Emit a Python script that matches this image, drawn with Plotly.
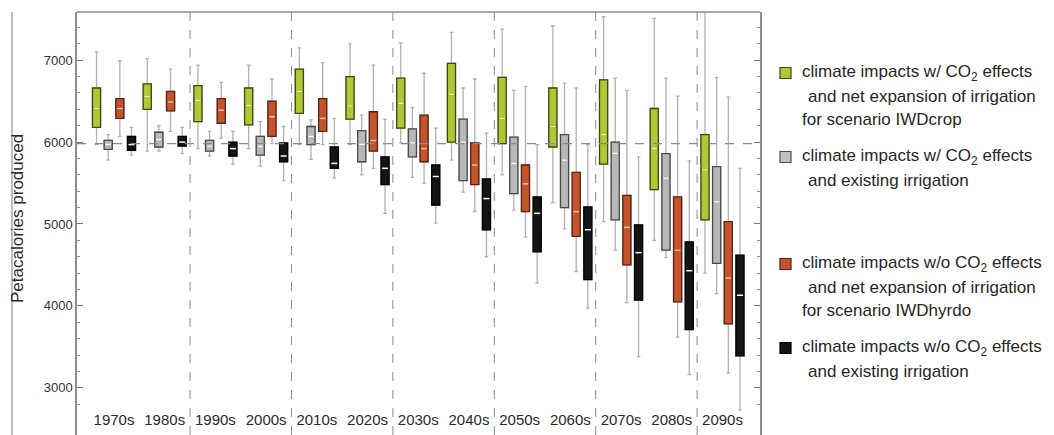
import plotly.graph_objects as go

# ---------------- data ----------------
decades = ["1970s", "1980s", "1990s", "2000s", "2010s", "2020s", "2030s",
           "2040s", "2050s", "2060s", "2070s", "2080s", "2090s"]

# climate impacts w/ CO2 effects and net expansion of irrigation (IWDcrop)
green_lo  = [5970, 5890, 5920, 5920, 5970, 5970, 5990, 5780, 5600, 5260, 5030, 4800, 4400]
green_q1  = [6180, 6400, 6250, 6210, 6350, 6280, 6170, 6000, 5980, 5940, 5730, 5420, 5050]
green_med = [6410, 6560, 6510, 6450, 6620, 6440, 6470, 6580, 6290, 6190, 6090, 5920, 5660]
green_q3  = [6660, 6710, 6690, 6660, 6890, 6800, 6780, 6960, 6790, 6660, 6760, 6410, 6090]
green_hi  = [7100, 7020, 6940, 6940, 7150, 7200, 7210, 7340, 7380, 7420, 7530, 7510, 7590]

# climate impacts w/ CO2 effects and existing irrigation
gray_lo  = [5780, 5890, 5830, 5710, 5790, 5600, 5570, 5390, 5170, 4940, 4680, 4590, 4150]
gray_q1  = [5910, 5940, 5890, 5840, 5970, 5760, 5820, 5530, 5370, 5200, 5050, 4680, 4520]
gray_med = [5970, 6030, 5950, 5950, 6070, 5970, 5990, 6000, 5740, 5780, 5860, 5560, 5270]
gray_q3  = [6020, 6120, 6020, 6070, 6190, 6140, 6160, 6280, 6060, 6090, 6000, 5860, 5700]
gray_hi  = [6090, 6200, 6130, 6250, 6270, 6330, 6420, 6660, 6630, 6720, 6780, 6780, 6790]

# climate impacts w/o CO2 effects and net expansion of irrigation (IWDhyrdo)
red_lo  = [6070, 6130, 6050, 5980, 5970, 5680, 5500, 5150, 4840, 4420, 4040, 3620, 3180]
red_q1  = [6290, 6380, 6230, 6070, 6130, 5890, 5760, 5480, 5150, 4850, 4500, 4050, 3780]
red_med = [6410, 6490, 6390, 6310, 6290, 6020, 5920, 5720, 5490, 5150, 4960, 4680, 4340]
red_q3  = [6530, 6620, 6530, 6500, 6530, 6370, 6330, 5990, 5720, 5630, 5350, 5330, 5030]
red_hi  = [6990, 6890, 6730, 6770, 6970, 6940, 6840, 6770, 6680, 6660, 6630, 6560, 6550]

# climate impacts w/o CO2 effects and existing irrigation
black_lo  = [5840, 5860, 5730, 5530, 5560, 5130, 5010, 4600, 4280, 3970, 3380, 3160, 2730]
black_q1  = [5900, 5950, 5830, 5760, 5680, 5480, 5230, 4930, 4660, 4320, 4070, 3710, 3390]
black_med = [5970, 6000, 5920, 5830, 5740, 5680, 5580, 5310, 5130, 4930, 4650, 4430, 4130]
black_q3  = [6070, 6070, 6000, 5990, 5940, 5820, 5720, 5550, 5330, 5210, 4990, 4780, 4620]
black_hi  = [6180, 6180, 6130, 6190, 6290, 6280, 6170, 6110, 5970, 5970, 5820, 5770, 5680]

reference_level = 5980
y_tick_values = [3000, 4000, 5000, 6000, 7000]
y_title = "Petacalories produced"

legend_lines = {
    "green": ["climate impacts w/ CO<sub>2</sub> effects",
              " and net expansion of irrigation",
              "for scenario IWDcrop"],
    "gray": ["climate impacts w/ CO<sub>2</sub> effects",
             " and existing irrigation"],
    "red": ["climate impacts w/o CO<sub>2</sub> effects",
            " and net expansion of irrigation",
            "for scenario IWDhyrdo"],
    "black": ["climate impacts w/o CO<sub>2</sub> effects",
              " and existing irrigation"],
}

# ---------------- styling ----------------
series = [
    ("green", green_lo, green_q1, green_med, green_q3, green_hi, -0.345, "#b0c832", "#3a4a12", "#f2f2a8"),
    ("gray", gray_lo, gray_q1, gray_med, gray_q3, gray_hi, -0.115, "#b8b8b8", "#4a4a4a", "#ffffff"),
    ("red", red_lo, red_q1, red_med, red_q3, red_hi, 0.115, "#c5532c", "#5a2210", "#f6c8b6"),
    ("black", black_lo, black_q1, black_med, black_q3, black_hi, 0.345, "#141414", "#000000", "#ffffff"),
]
BOX_W = 0.16

# screen geometry (page body has an 8px margin)
OFF = 8
W, H = 1054, 435
L, R, T, B = 77, 760, 12, 435
PW, PH = R - L, B - T


def px(xs):
    return (xs - L) / PW


def py(ys):
    return 1 - (ys - T) / PH


fig = go.Figure()

for name, lo, q1, med, q3, hi, off, fill, edge, medc in series:
    xs = [i + off for i in range(len(decades))]
    # whiskers
    fig.add_trace(go.Box(
        x=xs, q1=q1, median=med, q3=q3, lowerfence=lo, upperfence=hi,
        width=BOX_W, whiskerwidth=0.45, fillcolor="rgba(0,0,0,0)",
        line=dict(color="#b0b0b0", width=1.3), boxpoints=False,
        showlegend=False, hoverinfo="skip"))
    # box body
    fig.add_trace(go.Box(
        x=xs, q1=q1, median=med, q3=q3, lowerfence=q1, upperfence=q3,
        width=BOX_W, whiskerwidth=0, fillcolor=fill,
        line=dict(color=edge, width=1.3), boxpoints=False,
        showlegend=False, hoverinfo="skip"))
    # median marks
    mx, my = [], []
    for x, m in zip(xs, med):
        mx += [x - BOX_W / 2 + 0.02, x + BOX_W / 2 - 0.02, None]
        my += [m, m, None]
    fig.add_trace(go.Scatter(x=mx, y=my, mode="lines",
                             line=dict(color=medc, width=1.5),
                             showlegend=False, hoverinfo="skip"))

shapes = []
for i in range(1, len(decades) - 1, 2):
    shapes.append(dict(type="line", xref="x", yref="paper", x0=i + 0.5, x1=i + 0.5,
                       y0=0, y1=1, line=dict(color="#8a8a8a", width=1, dash="dash")))
shapes.append(dict(type="line", xref="paper", yref="y", x0=0, x1=1,
                   y0=reference_level, y1=reference_level,
                   line=dict(color="#8a8a8a", width=1.2, dash="dash")))
shapes.append(dict(type="line", xref="paper", yref="paper", x0=0, x1=1, y0=1, y1=1,
                   line=dict(color="#8c8c8c", width=1.5)))
shapes.append(dict(type="line", xref="paper", yref="paper", x0=px(12), x1=px(12),
                   y0=0, y1=1, line=dict(color="#a8a8a8", width=1.5)))

annotations = [dict(text=y_title, xref="paper", yref="paper", x=px(18), y=py(219),
                    xanchor="center", yanchor="middle", textangle=-90, showarrow=False,
                    font=dict(family="Liberation Sans", size=17, color="#2a2a2a"))]
legend_layout = [
    ("green", "#b0c832", "#3a4a12", [73, 96, 119]),
    ("gray", "#c0c0c0", "#505050", [157, 180]),
    ("red", "#c5532c", "#5a2210", [264, 287, 310]),
    ("black", "#141414", "#000000", [348, 371]),
]
for key, fill, edge, ys in legend_layout:
    shapes.append(dict(type="rect", xref="paper", yref="paper",
                       x0=px(780), x1=px(791), y0=py(ys[0] + 5.5), y1=py(ys[0] - 5.5),
                       fillcolor=fill, line=dict(color=edge, width=1.2)))
    for txt, yy in zip(legend_lines[key], ys):
        indent = 806 if txt.startswith(" ") else 800
        annotations.append(dict(text=txt.strip(), xref="paper", yref="paper",
                                x=px(indent), y=py(yy), xanchor="left", yanchor="middle",
                                showarrow=False,
                                font=dict(family="Liberation Sans", size=17, color="#262626")))

fig.update_layout(
    width=W - OFF, height=H - OFF,
    margin=dict(l=L - OFF, r=W - R, t=T - OFF, b=H - B, autoexpand=False),
    plot_bgcolor="white", paper_bgcolor="white",
    showlegend=False, boxmode="overlay",
    shapes=shapes, annotations=annotations,
    font=dict(family="Liberation Sans", color="#333333"),
)
fig.update_xaxes(
    range=[-0.73, 12.74], tickmode="array", tickvals=list(range(len(decades))),
    ticktext=decades, ticklabelposition="inside", ticklabelstandoff=4, ticks="",
    showline=False, showgrid=False, zeroline=False,
    tickfont=dict(family="Liberation Sans", size=15, color="#2a2a2a"),
)
fig.update_yaxes(
    range=[2424, 7588], tickmode="array", tickvals=y_tick_values,
    ticks="inside", ticklen=6, tickcolor="#777777", showline=True, linecolor="#8c8c8c",
    linewidth=1.5, mirror="ticks", showgrid=False, zeroline=False,
    minor=dict(dtick=200, ticks="inside", ticklen=3, tickcolor="#888888"),
    tickfont=dict(family="Liberation Sans", size=13, color="#333333"),
)

fig.write_html("out.html")
